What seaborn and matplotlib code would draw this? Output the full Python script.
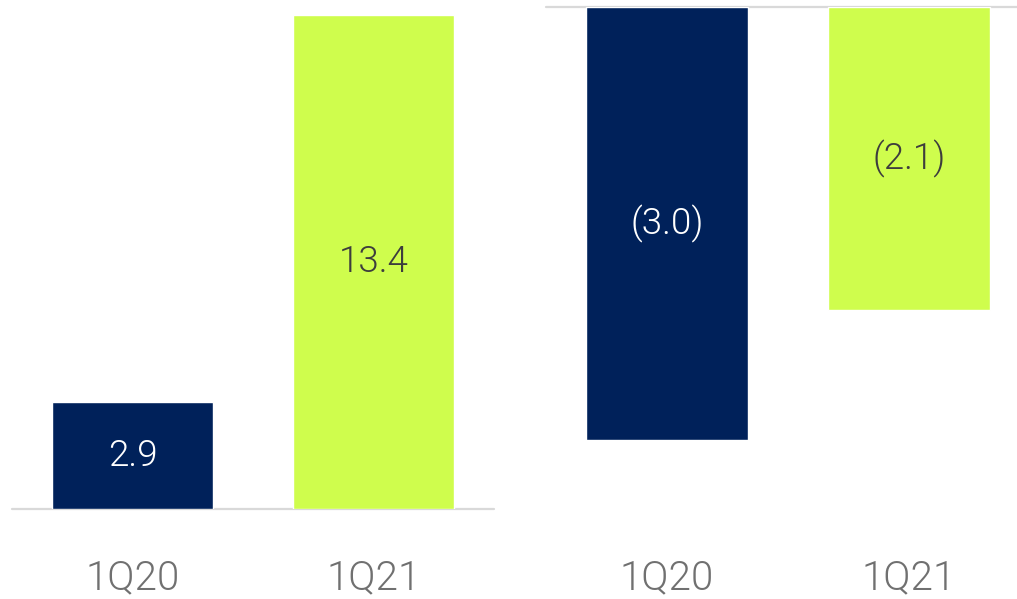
import matplotlib
matplotlib.use("Agg")
import matplotlib.pyplot as plt
import matplotlib.transforms as mtransforms
import seaborn as sns
import pandas as pd

categories = ["1Q20", "1Q21"]
left_values = [2.9, 13.4]
right_values = [-3.0, -2.1]
left_labels = ["2.9", "13.4"]
right_labels = ["(3.0)", "(2.1)"]

NAVY = "#00215A"
LIME = "#CFFD4D"
palette = {"1Q20": NAVY, "1Q21": LIME}
text_colors = {"1Q20": "white", "1Q21": "#3d3d3d"}

sns.set_theme(style="white")
plt.rcParams["font.family"] = ["Roboto", "DejaVu Sans"]

W, H = 1017, 599
fig = plt.figure(figsize=(W / 100, H / 100), dpi=100)

def px_axes(x0, x1, ytop, ybot):
    return fig.add_axes([x0 / W, (H - ybot) / H, (x1 - x0) / W, (ybot - ytop) / H])

ax1 = px_axes(12, 494, 15, 509)
ax2 = px_axes(546, 1030, 7, 440)

def draw(ax, values, labels, ylim):
    df = pd.DataFrame({"cat": categories, "val": values})
    sns.barplot(data=df, x="cat", y="val", hue="cat", palette=palette,
                width=0.668, ax=ax, legend=False, saturation=1)
    ax.set_xlim(-0.5, 1.5)
    ax.set_ylim(*ylim)
    ax.axhline(0, color="#d9d9d9", lw=1.6, zorder=0.5, clip_on=False)
    for sp in ax.spines.values():
        sp.set_visible(False)
    ax.set_xticks([]); ax.set_yticks([])
    ax.set_xlabel(""); ax.set_ylabel("")
    ax.patch.set_alpha(0)
    for i, (c, v, lab) in enumerate(zip(categories, values, labels)):
        ax.text(i, v / 2, lab, ha="center", va="center", fontsize=26.5,
                fontweight=300, color=text_colors[c])
    tr = mtransforms.blended_transform_factory(ax.transData, fig.transFigure)
    for i, c in enumerate(categories):
        ax.text(i, (H - 578) / H, c, transform=tr, ha="center", va="center",
                fontsize=29, fontweight=300, color="#707070", clip_on=False)

draw(ax1, left_values, left_labels, (0, 13.4))
draw(ax2, right_values, right_labels, (-3.0, 0))

fig.savefig("out.png", dpi=100, facecolor="white")
